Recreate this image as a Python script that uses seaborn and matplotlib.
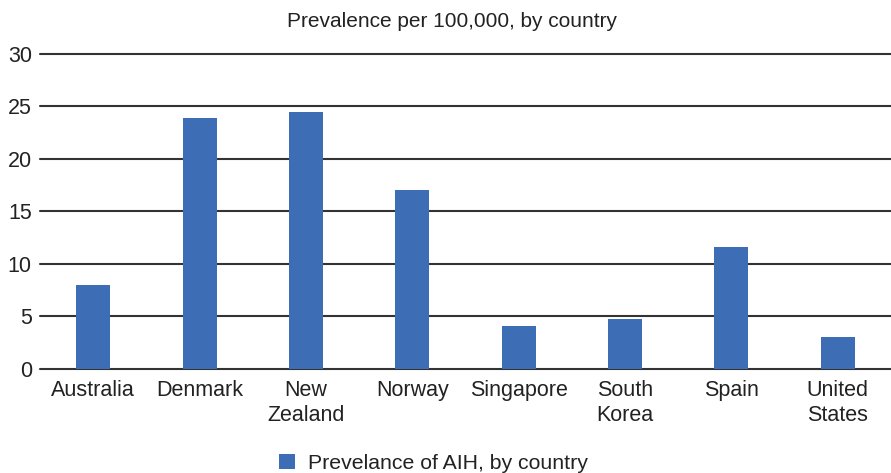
import pandas as pd
import matplotlib
matplotlib.use("Agg")
import matplotlib.pyplot as plt
import seaborn as sns

countries = ["Australia", "Denmark", "New\nZealand", "Norway", "Singapore",
             "South\nKorea", "Spain", "United\nStates"]
prevalence = [8.0, 23.9, 24.5, 17.0, 4.1, 4.8, 11.6, 3.0]
y_ticks = [0, 5, 10, 15, 20, 25, 30]

sns.set_style("white")
plt.rcParams['font.family'] = ['Liberation Sans', 'DejaVu Sans']

df = pd.DataFrame({"country": countries, "value": prevalence})
df["series"] = "Prevelance of AIH, by country"

fig = plt.figure(figsize=(8.91, 4.73), dpi=100)
ax = fig.add_axes([0.045, 0.22, 0.955, 0.666])

sns.barplot(data=df, x="country", y="value", hue="series",
            palette=["#3c6db5"], width=0.32, saturation=1, linewidth=0, ax=ax)

ax.set_ylim(0, 30)
ax.set_xlim(-0.5, len(countries) - 0.5)
ax.set_yticks(y_ticks)
ax.yaxis.grid(True, color="#333333", linewidth=1.5)
for gl in ax.get_ygridlines():
    gl.set_clip_on(False)
ax.set_axisbelow(True)
for s in ax.spines.values():
    s.set_visible(False)
ax.tick_params(axis="both", length=0, labelsize=15.5, colors="#222222")
ax.tick_params(axis="x", pad=8)
ax.tick_params(axis="y", pad=6)
ax.set_xlabel("")
ax.set_ylabel("")
for lbl in ax.get_xticklabels():
    lbl.set_linespacing(1.25)

fig.text(0.507, 0.955, "Prevalence per 100,000, by country", ha="center",
         va="center", fontsize=15, color="#222222")

ax.legend(loc="center", bbox_to_anchor=(0.462, -0.3), frameon=False,
          fontsize=15.3, handlelength=0.75, handleheight=0.75, handletextpad=0.6,
          labelcolor="#222222")

fig.savefig("out.png", dpi=100)
